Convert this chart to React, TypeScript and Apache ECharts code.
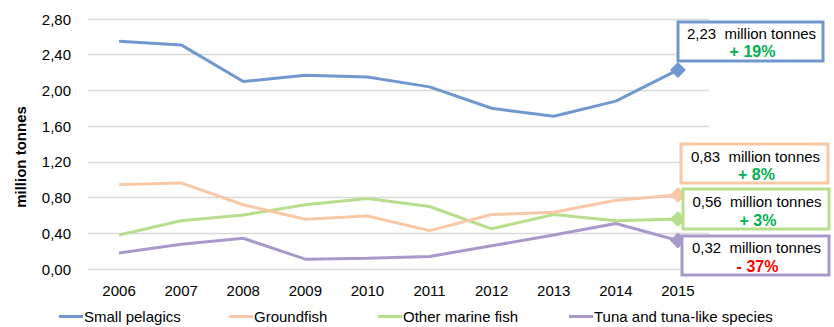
import React, { useEffect, useRef } from "react";
import * as echarts from "echarts";

const years = ["2006", "2007", "2008", "2009", "2010", "2011", "2012", "2013", "2014", "2015"];
const smallPelagics = [2.55, 2.51, 2.1, 2.17, 2.15, 2.04, 1.8, 1.71, 1.88, 2.23];
const groundfish = [0.945, 0.964, 0.72, 0.557, 0.594, 0.43, 0.61, 0.635, 0.77, 0.83];
const otherMarineFish = [0.38, 0.54, 0.605, 0.72, 0.79, 0.7, 0.45, 0.61, 0.54, 0.56];
const tuna = [0.18, 0.277, 0.344, 0.11, 0.12, 0.14, 0.26, 0.38, 0.51, 0.32];
const seriesNames = ["Small pelagics", "Groundfish", "Other marine fish", "Tuna and tuna-like species"];
const changes = ["+ 19%", "+ 8%", "+ 3%", "- 37%"];
const yTicks = [0, 0.4, 0.8, 1.2, 1.6, 2.0, 2.4, 2.8];

const colors = ["#7098CE", "#F8C7A6", "#B7DE8D", "#A999CB"];
const FONT = "Liberation Sans";

export default function App() {
  const ref = useRef<HTMLDivElement>(null);
  useEffect(() => {
    if (!ref.current) return;
    const chart = echarts.init(ref.current, null, { renderer: "svg" });
    const allData = [smallPelagics, groundfish, otherMarineFish, tuna];
    const last = years.length - 1;

    const boxes = [
      { x: 678, y: 22, w: 145, h: 39, l1: 33, l2: 51 },
      { x: 681, y: 144, w: 147, h: 39, l1: 156, l2: 174 },
      { x: 683, y: 189, w: 146, h: 40, l1: 201, l2: 220 },
      { x: 682, y: 236, w: 147, h: 39, l1: 247, l2: 266 },
    ];
    const graphics: any[] = [];
    boxes.forEach((b, i) => {
      const val = allData[i][last].toFixed(2).replace(".", ",");
      graphics.push({
        type: "rect",
        shape: { x: b.x, y: b.y, width: b.w, height: b.h },
        style: { fill: "#fff", stroke: colors[i], lineWidth: 3 },
        z: 100,
      });
      graphics.push({
        type: "text",
        x: b.x + b.w / 2 + 1,
        y: b.l1,
        style: {
          text: val + "  million tonnes",
          fill: "#000",
          font: `15px "${FONT}"`,
          align: "center",
          verticalAlign: "middle",
        },
        z: 101,
      });
      graphics.push({
        type: "text",
        x: b.x + b.w / 2 + 2,
        y: b.l2,
        style: {
          text: changes[i],
          fill: changes[i].startsWith("-") ? "#FF0000" : "#00B050",
          font: `bold 16px "${FONT}"`,
          align: "center",
          verticalAlign: "middle",
        },
        z: 101,
      });
    });
    graphics.push({
      type: "text",
      x: 20,
      y: 157,
      rotation: Math.PI / 2,
      style: {
        text: "million tonnes",
        fill: "#000",
        font: `bold 15px "${FONT}"`,
        align: "center",
        verticalAlign: "middle",
      },
    });

    const legendLefts = [54, 224, 373, 564];

    chart.setOption({
      animation: false,
      textStyle: { fontFamily: FONT },
      grid: { left: 88, right: 125, top: 19, bottom: 58 },
      legend: seriesNames.map((n, i) => ({
        data: [n],
        left: legendLefts[i],
        top: 304,
        icon: "rect",
        itemWidth: 24,
        itemHeight: 3,
        itemGap: 0,
        textStyle: { fontFamily: FONT, fontSize: 15, color: "#000", padding: [0, 0, 0, -4] },
      })),
      xAxis: {
        type: "category",
        data: years,
        boundaryGap: true,
        axisLine: { lineStyle: { color: "#D9D9D9", width: 1 } },
        axisTick: { show: false },
        axisLabel: { fontFamily: FONT, fontSize: 15, color: "#000", margin: 14 },
      },
      yAxis: {
        type: "value",
        min: 0,
        max: yTicks[yTicks.length - 1],
        interval: 0.4,
        axisLine: { show: false },
        axisTick: { show: false },
        splitLine: { lineStyle: { color: "#D9D9D9", width: 1.3 } },
        axisLabel: {
          fontFamily: FONT,
          fontSize: 15,
          color: "#000",
          margin: 17,
          formatter: (v: number) => v.toFixed(2).replace(".", ","),
        },
      },
      series: allData.map((d, i) => ({
        name: seriesNames[i],
        type: "line",
        data: d,
        color: colors[i],
        lineStyle: { width: 3, color: colors[i] },
        itemStyle: { color: colors[i] },
        symbol: (_v: any, p: any) => (p.dataIndex === last ? "diamond" : "none"),
        symbolSize: 16,
        showSymbol: true,
        z: 10 - i,
      })),
      graphic: graphics,
    });
    return () => chart.dispose();
  }, []);
  return (
    <div
      ref={ref}
      style={{ position: "fixed", left: 0, top: 0, width: 834, height: 327, background: "#fff" }}
    />
  );
}
